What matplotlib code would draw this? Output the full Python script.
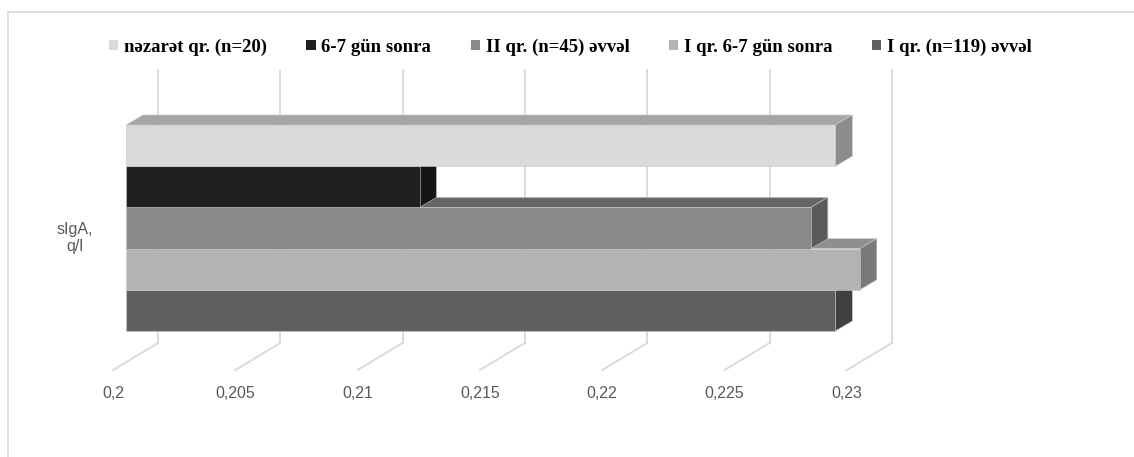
import numpy as np
import matplotlib.pyplot as plt
from matplotlib.patches import Polygon, Patch
from matplotlib.lines import Line2D

# series, bottom to top inside the single category
series = ['I qr. (n=119) əvvəl', 'I qr. 6-7 gün sonra', 'II qr. (n=45) əvvəl',
          '6-7 gün sonra', 'nəzarət qr. (n=20)']
values = [0.229, 0.230, 0.228, 0.212, 0.229]
category = 'sIgA,\nq/l'
ticks = [0.2, 0.205, 0.21, 0.215, 0.22, 0.225, 0.23]
tick_labels = ['0,2', '0,205', '0,21', '0,215', '0,22', '0,225', '0,23']

front_colors = ['#5f5f5f', '#b3b3b3', '#898989', '#202020', '#dadada']
top_colors = ['#4a4a4a', '#8f8f8f', '#666666', '#181818', '#a6a6a6']
side_colors = ['#404040', '#7a7a7a', '#5a5a5a', '#161616', '#8c8c8c']

W, H = 1134, 457
fig = plt.figure(figsize=(W / 100, H / 100), dpi=100)
ax = fig.add_axes([0, 0, 1, 1])
ax.set_axis_off()

# value axis: 0.005 per 122.3 px, bar origin at x=126 px
xu = 0.005 / 122.3
x_left = 0.2 - 126 * xu
ax.set_xlim(x_left, x_left + W * xu)
# slot axis: one bar = 41.2 px, bottom of lowest bar at y=331 px
yu = 1 / 41.2
y0 = 331
ax.set_ylim((y0 - H) * yu, y0 * yu)

def px(dx, dy):
    """pixel offsets -> data offsets (dy measured upward)"""
    return dx * xu, dy * yu

bar_dx, bar_dy = px(17, 10)
wall_dx, _ = px(32, 0)
floor_y = (y0 - 343) * yu
front_dx, front_dy = px(-45, -27)
wall_top = (y0 - 70) * yu

# back wall gridlines and floor lines
for t in ticks:
    xb = t + wall_dx
    ax.plot([xb, xb], [floor_y, wall_top], color='#d9d9d9', lw=1.3, zorder=1)
    ax.plot([xb, xb + front_dx], [floor_y, floor_y + front_dy],
            color='#d9d9d9', lw=1.3, zorder=1)
for t, lab in zip(ticks, tick_labels):
    ax.text(t + wall_dx + front_dx, (y0 - 394) * yu, lab, ha='center',
            va='center', fontsize=11.5, color='#595959', family='Liberation Sans')

# 3d-looking bars: front, top and right side faces
base = 0.2
for k, (v, fc, tc, sc) in enumerate(zip(values, front_colors, top_colors, side_colors)):
    b, t = k, k + 1
    z = 2 + k
    ax.add_patch(Polygon([(base, t), (base + bar_dx, t + bar_dy),
                          (v + bar_dx, t + bar_dy), (v, t)],
                         closed=True, fc=tc, ec='#c8c8c8', lw=0.4, zorder=z))
    ax.add_patch(Polygon([(v, b), (v + bar_dx, b + bar_dy),
                          (v + bar_dx, t + bar_dy), (v, t)],
                         closed=True, fc=sc, ec='#c8c8c8', lw=0.4, zorder=z))
    ax.barh(b, v - base, left=base, height=1, align='edge', color=fc,
            edgecolor='#c8c8c8', linewidth=0.4, zorder=z)

ax.text((75 - 126) * xu + base, (y0 - 238) * yu, category, ha='center',
        va='center', fontsize=11.5, color='#595959', family='Liberation Sans',
        linespacing=1.2)

handles = [Patch(facecolor=c, edgecolor='none') for c in front_colors[::-1]]
fig.legend(handles, series[::-1], loc='center', bbox_to_anchor=(0.503, 1 - 47 / H),
           ncol=5, frameon=False, handlelength=0.5, handleheight=0.5,
           handletextpad=0.3, columnspacing=2.1,
           prop={'family': 'Liberation Serif', 'weight': 'bold', 'size': 13.5})

# chart area border (top and left edges)
bx, by = 8 / W, 1 - 12 / H
fig.add_artist(Line2D([bx, 1], [by, by], color='#d9d9d9', lw=1.2))
fig.add_artist(Line2D([bx, bx], [0, by], color='#d9d9d9', lw=1.2))

fig.savefig('out.png', dpi=100)
